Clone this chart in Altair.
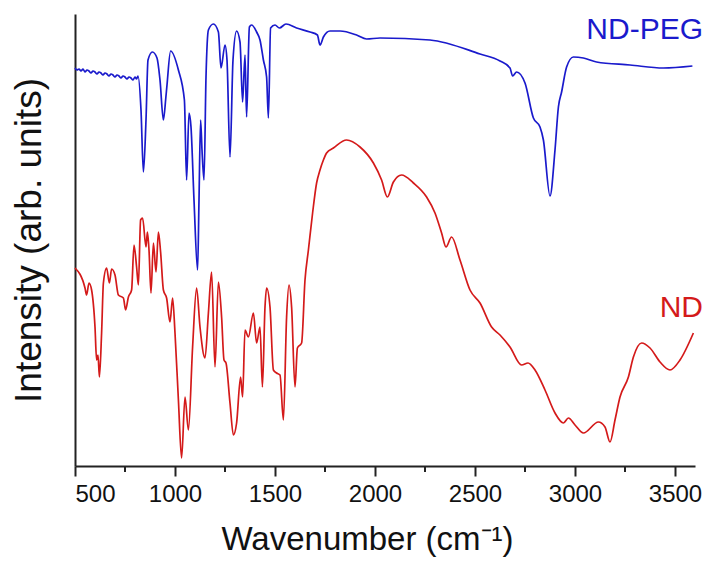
import altair as alt
import pandas as pd

# ND-PEG (blue) spectrum: wavenumber (cm-1) and intensity (arb. units)
peg_wn = [500, 510, 520, 530, 540, 550, 560, 570, 580, 590, 600, 610, 620, 630, 640, 650, 660, 670, 680, 690, 700, 710,
          720, 730, 740, 750, 760, 770, 780, 790, 800, 808, 815,
          830, 842, 855, 865, 887, 910, 925, 942, 954, 960, 978, 1017, 1047, 1058, 1070, 1080, 1095, 1113, 1120, 1128, 1135,
          1145, 1155, 1167, 1192, 1217, 1230, 1250, 1260, 1275, 1290, 1308, 1325, 1338, 1350, 1358, 1372, 1383, 1408, 1425,
          1442, 1458, 1467, 1478, 1500, 1522, 1555, 1608, 1675, 1712, 1725, 1742, 1775, 1825, 1908, 1958, 2025, 2275, 2525,
          2625, 2675, 2688, 2708, 2750, 2792, 2825, 2842, 2875, 2900, 2917, 2933, 2958, 2992, 3042, 3108, 3275, 3442, 3587]
peg_int = [398, 396, 397, 395, 397, 394, 396, 395, 393, 395, 394, 392, 394, 393, 391, 393, 392, 390, 392, 391, 389, 391,
           390, 388, 390, 389, 387, 389, 388, 386, 389, 387, 390,
           356, 294, 346, 406, 414, 408, 386, 346, 368, 381, 415, 396, 366, 286, 353, 339, 266, 196, 266, 346, 316,
           286, 389, 436, 442, 434, 398, 421, 406, 309, 406, 435, 424, 364, 411, 349, 439, 441, 434, 426,
           406, 389, 348, 438, 441, 438, 442, 438, 434, 431, 421, 429, 435, 435, 431, 427, 428, 426, 412,
           405, 398, 390, 394, 383, 348, 339, 326, 270, 316, 359, 374, 399, 409, 408, 404, 401, 398, 400]

# ND (red) spectrum
nd_wn = [500, 550, 558, 570, 583, 600, 608, 615, 622, 633, 642, 658, 672, 683, 700, 717, 742, 753, 767, 783, 795, 808, 817,
         828, 838, 855, 862, 870, 880, 892, 905, 917, 928, 942, 958, 975, 988, 1000, 1017, 1033, 1050, 1067, 1088, 1108,
         1125, 1150, 1167, 1183, 1200, 1217, 1233, 1245, 1255, 1275, 1292, 1308, 1328, 1338, 1350, 1367, 1392, 1408, 1425,
         1437, 1450, 1458, 1475, 1492, 1508, 1525, 1542, 1558, 1570, 1583, 1600, 1612, 1633, 1650, 1667, 1688, 1708, 1725,
         1742, 1758, 1792, 1858, 1925, 1992, 2033, 2062, 2092, 2133, 2192, 2258, 2300, 2333, 2355, 2383, 2425, 2475, 2525,
         2583, 2625, 2675, 2733, 2765, 2800, 2850, 2900, 2942, 2967, 3000, 3042, 3117, 3150, 3175, 3200, 3225, 3267, 3292,
         3333, 3375, 3425, 3475, 3525, 3592]
nd_int = [198, 178, 171, 183, 176, 139, 106, 111, 89, 133, 183, 198, 183, 197, 191, 171, 168, 156, 169, 176, 221, 199, 181,
          246, 248, 219, 234, 216, 173, 223, 194, 234, 214, 176, 168, 144, 168, 133, 66, 8, 69, 36, 119, 178,
          139, 108, 153, 194, 99, 184, 149, 106, 103, 63, 31, 43, 89, 69, 136, 129, 153, 123, 139,
          79, 159, 178, 159, 96, 93, 91, 46, 149, 181, 159, 79, 118, 123, 186, 216, 253, 283, 296,
          306, 313, 318, 326, 319, 303, 286, 269, 284, 291, 283, 269, 253, 233, 219, 229, 206, 176, 163,
          139, 131, 119, 101, 103, 96, 76, 53, 43, 48, 41, 33, 44, 39, 24, 46, 69, 89, 109,
          123, 118, 104, 96, 106, 133]

major_ticks = [500, 1000, 1500, 2000, 2500, 3000, 3500]
minor_ticks = [750, 1250, 1750, 2250, 2750, 3250]

series_names = ["ND-PEG", "ND"]
series_colors = ["#1a1acc", "#d41a1a"]

W, H = 620, 452
FONT = "Liberation Sans"

df = pd.concat([
    pd.DataFrame({"wn": peg_wn, "intensity": peg_int, "series": "ND-PEG"}),
    pd.DataFrame({"wn": nd_wn, "intensity": nd_int, "series": "ND"}),
])

x_enc = alt.X("wn:Q",
              scale=alt.Scale(domain=[500, 3600], nice=False, zero=False),
              axis=alt.Axis(values=major_ticks, format="d", tickSize=10, tickWidth=2, tickColor="#222",
                            domainWidth=2, domainColor="#222", labelFontSize=24, labelFont=FONT,
                            labelColor="#111", labelPadding=6, grid=False,
                            title="Wavenumber (cm⁻¹)", titleFont=FONT, titleFontSize=33,
                            titleFontWeight="normal", titleColor="#111", titlePadding=17,
                            titleX=292))
y_enc = alt.Y("intensity:Q",
              scale=alt.Scale(domain=[0, 452], nice=False, zero=False),
              axis=alt.Axis(ticks=False, labels=False, grid=False, domainWidth=2, domainColor="#222",
                            title="Intensity (arb. units)", titleFont=FONT, titleFontSize=37,
                            titleFontWeight="normal", titleColor="#111", titlePadding=27))

lines = alt.Chart(df).mark_line(strokeWidth=1.7, interpolate="monotone").encode(
    x=x_enc,
    y=y_enc,
    color=alt.Color("series:N", scale=alt.Scale(domain=series_names, range=series_colors), legend=None),
    order="wn:Q",
)

minor = alt.Chart(pd.DataFrame({"wn": minor_ticks})).mark_rule(strokeWidth=2, color="#222").encode(
    x="wn:Q",
    y=alt.value(H),
    y2=alt.value(H + 6),
)

labels_df = pd.DataFrame({"label": series_names, "color": series_colors,
                          "px": [628, 628], "py": [16, 294]})
labels = alt.Chart(labels_df).mark_text(align="right", baseline="middle", fontSize=30, font=FONT).encode(
    x=alt.X("px:Q", scale=None),
    y=alt.Y("py:Q", scale=None),
    text="label:N",
    color=alt.Color("color:N", scale=None),
)

chart = alt.layer(lines, minor, labels).properties(
    width=W, height=H,
    autosize="none",
    padding={"left": 67, "top": 6, "right": 10, "bottom": 93},
).configure_view(stroke=None)

chart.save("out.html", embed_options={"renderer": "svg", "actions": False})
